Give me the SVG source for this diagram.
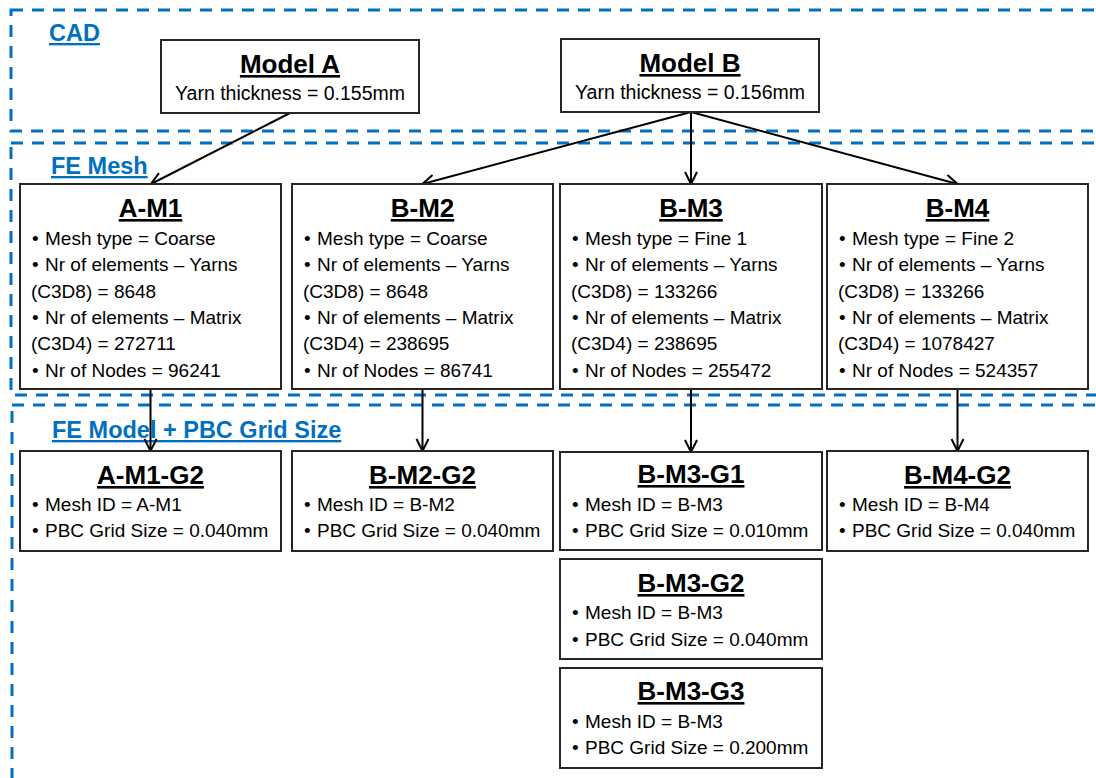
<svg xmlns="http://www.w3.org/2000/svg" width="1096" height="778" viewBox="0 0 1096 778">
<defs>
<style>
.region{fill:none;stroke:#0070C0;stroke-width:3;stroke-dasharray:12 9;}
.sec{font-family:"Liberation Sans",Arial,sans-serif;font-weight:bold;font-size:23.5px;fill:#0070C0;text-decoration:underline;}
.box{fill:#fff;stroke:#262626;stroke-width:2;}
.title{font-family:"Liberation Sans",Arial,sans-serif;font-weight:bold;font-size:26px;fill:#000;text-anchor:middle;text-decoration:underline;}
.sub{font-family:"Liberation Sans",Arial,sans-serif;font-size:19.5px;fill:#000;text-anchor:middle;}
.body{font-family:"Liberation Sans",Arial,sans-serif;font-size:19px;fill:#000;}
.conn{stroke:#000;stroke-width:2;fill:none;marker-end:url(#arr);}
</style>
<marker id="arr" markerUnits="userSpaceOnUse" markerWidth="16" markerHeight="16" viewBox="0 0 16 16" refX="14" refY="8" orient="auto">
<path d="M2,2 L14,8 L2,14" fill="none" stroke="#000" stroke-width="2"/>
</marker>
</defs>
<rect width="1096" height="778" fill="#fff"/>
<g id="regions">
<rect class="region" x="11" y="10" width="1100" height="121"/>
<rect class="region" x="11" y="143" width="1100" height="252"/>
<rect class="region" x="12" y="405" width="1100" height="400"/>
<text class="sec" x="49" y="41">CAD</text>
<text class="sec" x="51" y="174">FE Mesh</text>
<text class="sec" x="52" y="438">FE Model + PBC Grid Size</text>
</g>
<g id="connectors">
<line class="conn" x1="290" y1="113" x2="151" y2="184"/>
<line class="conn" x1="691" y1="112" x2="422.5" y2="184"/>
<line class="conn" x1="691" y1="112" x2="691" y2="184"/>
<line class="conn" x1="691" y1="112" x2="957.5" y2="184"/>
<line class="conn" x1="150.5" y1="389" x2="150.5" y2="451"/>
<line class="conn" x1="422.5" y1="389" x2="422.5" y2="451"/>
<line class="conn" x1="691" y1="389" x2="691" y2="452"/>
<line class="conn" x1="957.5" y1="389" x2="957.5" y2="451"/>
</g>
<g id="modelA">
<rect class="box" x="161" y="40" width="258" height="73"/>
<text class="title" x="290" y="73">Model A</text>
<text class="sub" x="290" y="100">Yarn thickness = 0.155mm</text>
</g>
<g id="modelB">
<rect class="box" x="561" y="39" width="258" height="73"/>
<text class="title" x="690" y="72">Model B</text>
<text class="sub" x="690" y="99">Yarn thickness = 0.156mm</text>
</g>
<g id="A-M1">
<rect class="box" x="20" y="184" width="261" height="205"/>
<text class="title" x="150.5" y="217">A-M1</text>
<text class="body"><tspan x="32" y="245">•</tspan><tspan x="45" y="245">Mesh type = Coarse</tspan><tspan x="32" y="271.3">•</tspan><tspan x="45" y="271.3">Nr of elements – Yarns</tspan><tspan x="31" y="297.6">(C3D8) = 8648</tspan><tspan x="32" y="323.9">•</tspan><tspan x="45" y="323.9">Nr of elements – Matrix</tspan><tspan x="31" y="350.2">(C3D4) = 272711</tspan><tspan x="32" y="376.5">•</tspan><tspan x="45" y="376.5">Nr of Nodes = 96241</tspan></text>
</g>
<g id="B-M2">
<rect class="box" x="292" y="184" width="261" height="205"/>
<text class="title" x="422.5" y="217">B-M2</text>
<text class="body"><tspan x="304" y="245">•</tspan><tspan x="317" y="245">Mesh type = Coarse</tspan><tspan x="304" y="271.3">•</tspan><tspan x="317" y="271.3">Nr of elements – Yarns</tspan><tspan x="303" y="297.6">(C3D8) = 8648</tspan><tspan x="304" y="323.9">•</tspan><tspan x="317" y="323.9">Nr of elements – Matrix</tspan><tspan x="303" y="350.2">(C3D4) = 238695</tspan><tspan x="304" y="376.5">•</tspan><tspan x="317" y="376.5">Nr of Nodes = 86741</tspan></text>
</g>
<g id="B-M3">
<rect class="box" x="560" y="184" width="262" height="205"/>
<text class="title" x="691" y="217">B-M3</text>
<text class="body"><tspan x="572" y="245">•</tspan><tspan x="585" y="245">Mesh type = Fine 1</tspan><tspan x="572" y="271.3">•</tspan><tspan x="585" y="271.3">Nr of elements – Yarns</tspan><tspan x="571" y="297.6">(C3D8) = 133266</tspan><tspan x="572" y="323.9">•</tspan><tspan x="585" y="323.9">Nr of elements – Matrix</tspan><tspan x="571" y="350.2">(C3D4) = 238695</tspan><tspan x="572" y="376.5">•</tspan><tspan x="585" y="376.5">Nr of Nodes = 255472</tspan></text>
</g>
<g id="B-M4">
<rect class="box" x="827" y="184" width="261" height="205"/>
<text class="title" x="957.5" y="217">B-M4</text>
<text class="body"><tspan x="839" y="245">•</tspan><tspan x="852" y="245">Mesh type = Fine 2</tspan><tspan x="839" y="271.3">•</tspan><tspan x="852" y="271.3">Nr of elements – Yarns</tspan><tspan x="838" y="297.6">(C3D8) = 133266</tspan><tspan x="839" y="323.9">•</tspan><tspan x="852" y="323.9">Nr of elements – Matrix</tspan><tspan x="838" y="350.2">(C3D4) = 1078427</tspan><tspan x="839" y="376.5">•</tspan><tspan x="852" y="376.5">Nr of Nodes = 524357</tspan></text>
</g>
<g id="A-M1-G2">
<rect class="box" x="20" y="451" width="261" height="100"/>
<text class="title" x="150.5" y="484">A-M1-G2</text>
<text class="body"><tspan x="32" y="511">•</tspan><tspan x="45" y="511">Mesh ID = A-M1</tspan><tspan x="32" y="537">•</tspan><tspan x="45" y="537">PBC Grid Size = 0.040mm</tspan></text>
</g>
<g id="B-M2-G2">
<rect class="box" x="292" y="451" width="261" height="100"/>
<text class="title" x="422.5" y="484">B-M2-G2</text>
<text class="body"><tspan x="304" y="511">•</tspan><tspan x="317" y="511">Mesh ID = B-M2</tspan><tspan x="304" y="537">•</tspan><tspan x="317" y="537">PBC Grid Size = 0.040mm</tspan></text>
</g>
<g id="B-M3-G1">
<rect class="box" x="560" y="452" width="262" height="98"/>
<text class="title" x="691" y="483">B-M3-G1</text>
<text class="body"><tspan x="572" y="511">•</tspan><tspan x="585" y="511">Mesh ID = B-M3</tspan><tspan x="572" y="537">•</tspan><tspan x="585" y="537">PBC Grid Size = 0.010mm</tspan></text>
</g>
<g id="B-M4-G2">
<rect class="box" x="827" y="451" width="261" height="100"/>
<text class="title" x="957.5" y="484">B-M4-G2</text>
<text class="body"><tspan x="839" y="511">•</tspan><tspan x="852" y="511">Mesh ID = B-M4</tspan><tspan x="839" y="537">•</tspan><tspan x="852" y="537">PBC Grid Size = 0.040mm</tspan></text>
</g>
<g id="B-M3-G2">
<rect class="box" x="560" y="559" width="262" height="100"/>
<text class="title" x="691" y="592">B-M3-G2</text>
<text class="body"><tspan x="572" y="619">•</tspan><tspan x="585" y="619">Mesh ID = B-M3</tspan><tspan x="572" y="645.5">•</tspan><tspan x="585" y="645.5">PBC Grid Size = 0.040mm</tspan></text>
</g>
<g id="B-M3-G3">
<rect class="box" x="560" y="668" width="262" height="100"/>
<text class="title" x="691" y="700">B-M3-G3</text>
<text class="body"><tspan x="572" y="728">•</tspan><tspan x="585" y="728">Mesh ID = B-M3</tspan><tspan x="572" y="754">•</tspan><tspan x="585" y="754">PBC Grid Size = 0.200mm</tspan></text>
</g>
</svg>
